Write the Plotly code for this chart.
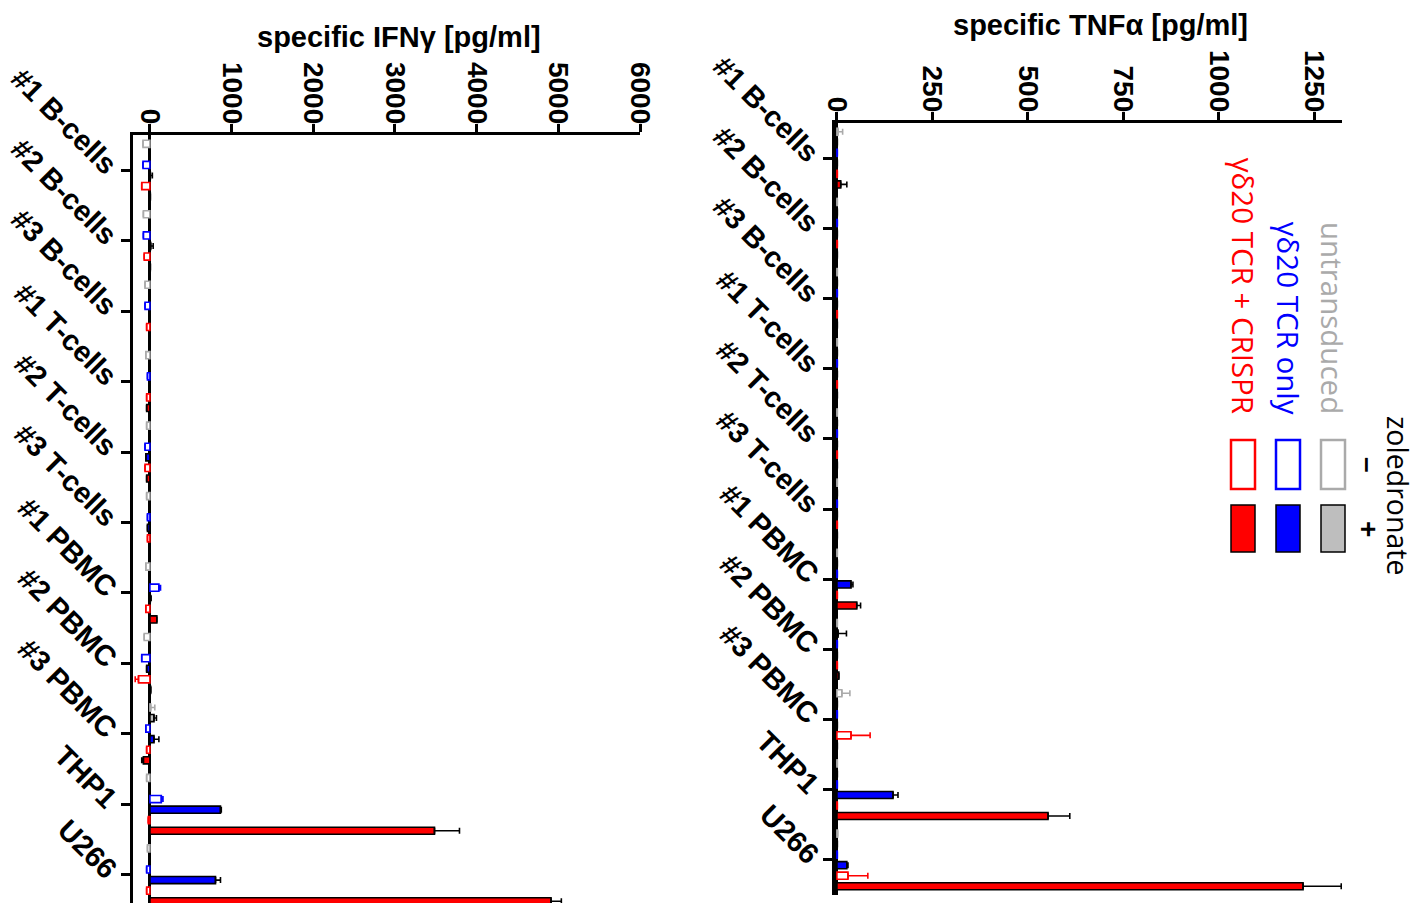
import plotly.graph_objects as go

categories = ["#1 B-cells", "#2 B-cells", "#3 B-cells", "#1 T-cells", "#2 T-cells",
              "#3 T-cells", "#1 PBMC", "#2 PBMC", "#3 PBMC", "THP1", "U266"]

series_names = ["untransduced –", "untransduced +", "γδ20 TCR only –",
                "γδ20 TCR only +", "γδ20 TCR + CRISPR –", "γδ20 TCR + CRISPR +"]

# IFN-gamma values [pg/ml]
ifn_grey_minus = [-85, -80, -60, -50, -40, -40, -50, -70, 10, -40, -30]
ifn_grey_plus = [3, 3, -10, -10, -10, -10, -10, -10, 50, -10, -10]
ifn_blue_minus = [-85, -80, -60, -30, -60, -30, 110, -100, -50, 140, -40]
ifn_blue_plus = [5, 10, -10, -10, -50, -30, 5, -40, 50, 864, 803]
ifn_red_minus = [-100, -70, -40, -40, -60, -30, -50, -140, -40, -20, -40]
ifn_red_plus = [5, 5, 3, -40, -40, 3, 85, 10, -80, 3484, 4911]

ifn_grey_minus_err = [0, 0, 0, 0, 0, 0, 0, 0, 50, 0, 0]
ifn_grey_plus_err = [0, 0, 0, 0, 0, 0, 0, 0, 30, 0, 0]
ifn_blue_minus_err = [0, 0, 0, 0, 0, 0, 20, 0, 0, 20, 0]
ifn_blue_plus_err = [25, 30, 0, 0, 0, 0, 10, 0, 60, 10, 61]
ifn_red_minus_err = [0, 0, 0, 0, 0, 0, 0, 40, 0, 0, 0]
ifn_red_plus_err = [0, 0, 0, 0, 0, 0, 0, 0, 20, 306, 126]

# TNF-alpha values [pg/ml]
tnf_grey_minus = [3, 1, 1, 1, 1, 1, 1, 1, 13, 1, 2]
tnf_grey_plus = [1, 1, 1, 1, 1, 1, 1, 3, 1, 1, 1]
tnf_blue_minus = [1, 1, 1, 1, 1, 1, 1, 1, 1, 1, 1]
tnf_blue_plus = [1, 1, 1, 1, 1, 1, 37, 1, 1, 147, 26]
tnf_red_minus = [1, 1, 1, 1, 1, 1, 1, 1, 37, 1, 29]
tnf_red_plus = [10, 1, 1, 1, 1, 1, 52, 5, 1, 553, 1221]

tnf_grey_minus_err = [12, 0, 0, 0, 0, 0, 0, 0, 21, 0, 0]
tnf_grey_plus_err = [0, 0, 0, 0, 0, 0, 0, 22, 0, 0, 0]
tnf_blue_minus_err = [0, 0, 0, 0, 0, 0, 0, 0, 0, 0, 0]
tnf_blue_plus_err = [0, 0, 0, 0, 0, 0, 5, 0, 0, 13, 3]
tnf_red_minus_err = [0, 0, 0, 0, 0, 0, 0, 0, 50, 0, 52]
tnf_red_plus_err = [16, 0, 0, 0, 0, 0, 10, 0, 0, 57, 100]

GREY_LINE = "#AAAAAA"
GREY_FILL = "#BEBEBE"
BLUE = "#0000FF"
RED = "#FF0000"

styles = [
    dict(fill="white", line=GREY_LINE, err=GREY_LINE),
    dict(fill=GREY_FILL, line="black", err="black"),
    dict(fill="white", line=BLUE, err=BLUE),
    dict(fill=BLUE, line="black", err="black"),
    dict(fill="white", line=RED, err=RED),
    dict(fill=RED, line="black", err="black"),
]

ifn_series = [ifn_grey_minus, ifn_grey_plus, ifn_blue_minus, ifn_blue_plus, ifn_red_minus, ifn_red_plus]
ifn_errs = [ifn_grey_minus_err, ifn_grey_plus_err, ifn_blue_minus_err, ifn_blue_plus_err,
            ifn_red_minus_err, ifn_red_plus_err]
tnf_series = [tnf_grey_minus, tnf_grey_plus, tnf_blue_minus, tnf_blue_plus, tnf_red_minus, tnf_red_plus]
tnf_errs = [tnf_grey_minus_err, tnf_grey_plus_err, tnf_blue_minus_err, tnf_blue_plus_err,
            tnf_red_minus_err, tnf_red_plus_err]

fig = go.Figure()

def add_panel(series, errs, xa, ya):
    for name, vals, err, st in zip(series_names, series, errs, styles):
        plus = [e if v >= 0 else 0 for v, e in zip(vals, err)]
        minus = [e if v < 0 else 0 for v, e in zip(vals, err)]
        fig.add_trace(go.Bar(
            y=categories, x=vals, orientation="h", name=name,
            xaxis=xa, yaxis=ya, showlegend=False,
            marker=dict(color=st["fill"], line=dict(color=st["line"], width=1.6)),
            error_x=dict(type="data", symmetric=False, array=plus, arrayminus=minus,
                         color=st["err"], thickness=1.6, width=3),
        ))

add_panel(ifn_series, ifn_errs, "x", "y")
add_panel(tnf_series, tnf_errs, "x2", "y2")

W, H = 1425, 903
BOLD = "Arial, Liberation Sans, sans-serif"

def px_x(p):
    return p / W

def px_y(p):
    return 1 - p / H

val_axis_common = dict(
    side="top", showline=True, linecolor="black", linewidth=3,
    ticks="outside", ticklen=8, tickwidth=3, tickcolor="black",
    tickangle=90, tickfont=dict(family=BOLD, size=28, color="black", weight="bold"),
    ticklabelstandoff=-10,
    showgrid=False, zeroline=True, zerolinecolor="black", zerolinewidth=3,
    automargin=False,
)
cat_axis_common = dict(
    showline=True, linecolor="black", linewidth=3,
    ticks="outside", ticklen=9, tickwidth=3, tickcolor="black",
    tickangle=45, tickfont=dict(family=BOLD, size=29, color="black", weight="bold"),
    showgrid=False, type="category", automargin=False,
)

fig.update_layout(
    width=W, height=H, margin=dict(l=0, r=0, t=0, b=0, autoexpand=False),
    plot_bgcolor="white", paper_bgcolor="white",
    barmode="group", bargap=0.1, bargroupgap=0.33,
    xaxis=dict(domain=[px_x(133), px_x(640)], range=[-207, 6000],
               tickvals=[0, 1000, 2000, 3000, 4000, 5000, 6000], anchor="y", **val_axis_common),
    yaxis=dict(domain=[0, px_y(135)], range=[10.4, -0.5], anchor="x", **cat_axis_common),
    xaxis2=dict(domain=[px_x(835), px_x(1342)], range=[-5, 1323],
                tickvals=[0, 250, 500, 750, 1000, 1250], anchor="y2", **val_axis_common),
    yaxis2=dict(domain=[px_y(895), px_y(123)], range=[10.5, -0.5], anchor="x2", **cat_axis_common),
)

# Axis titles
fig.add_annotation(text="<b>specific IFNγ [pg/ml]</b>", x=px_x(399), y=px_y(37),
                   xref="paper", yref="paper", showarrow=False,
                   xanchor="center", yanchor="middle",
                   font=dict(family=BOLD, size=29, color="black"))
fig.add_annotation(text="<b>specific TNFα [pg/ml]</b>", x=px_x(1100), y=px_y(25),
                   xref="paper", yref="paper", showarrow=False,
                   xanchor="center", yanchor="middle",
                   font=dict(family=BOLD, size=29, color="black"))

# Legend (rotated)
LEG = "Open Sans, sans-serif"
legend_items = [("untransduced", GREY_LINE, GREY_FILL, 1333),
                ("γδ20 TCR only", BLUE, BLUE, 1288),
                ("γδ20 TCR + CRISPR", RED, RED, 1243)]
for label, lc, fc, cx in legend_items:
    fig.add_annotation(text=label, x=px_x(cx), y=px_y(416), xref="paper", yref="paper",
                       showarrow=False, textangle=90, xanchor="center", yanchor="bottom",
                       font=dict(family=LEG, size=29.5, color=lc))
    fig.add_shape(type="rect", xref="paper", yref="paper",
                  x0=px_x(cx - 12), x1=px_x(cx + 12), y0=px_y(440), y1=px_y(489),
                  line=dict(color=lc, width=2.5), fillcolor="white")
    fig.add_shape(type="rect", xref="paper", yref="paper",
                  x0=px_x(cx - 12), x1=px_x(cx + 12), y0=px_y(505), y1=px_y(552),
                  line=dict(color="black", width=1.5), fillcolor=fc)

fig.add_annotation(text="zoledronate", x=px_x(1398), y=px_y(495), xref="paper", yref="paper",
                   showarrow=False, textangle=90, xanchor="center", yanchor="middle",
                   font=dict(family=LEG, size=28.5, color="black"))
fig.add_annotation(text="<b>–</b>", x=px_x(1369), y=px_y(465), xref="paper", yref="paper",
                   showarrow=False, textangle=90, xanchor="center", yanchor="middle",
                   font=dict(family=BOLD, size=28, color="black"))
fig.add_annotation(text="<b>+</b>", x=px_x(1369), y=px_y(529), xref="paper", yref="paper",
                   showarrow=False, textangle=90, xanchor="center", yanchor="middle",
                   font=dict(family=BOLD, size=28, color="black"))

fig.write_html("out.html")
